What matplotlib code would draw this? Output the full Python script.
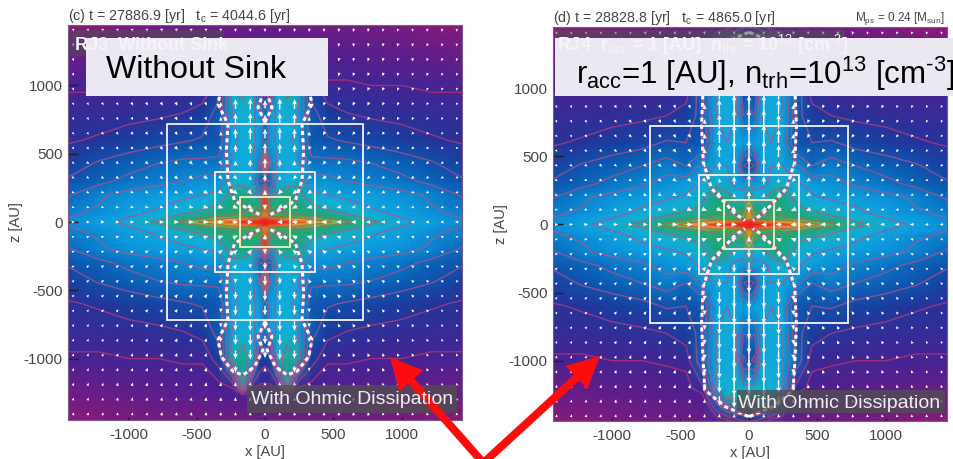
import matplotlib
matplotlib.use('Agg')
import matplotlib.pyplot as plt
import numpy as np
from matplotlib.colors import LinearSegmentedColormap
from matplotlib.patches import FancyArrow, Rectangle

plt.rcParams['font.family'] = ['Liberation Sans', 'DejaVu Sans']
plt.rcParams['mathtext.fontset'] = 'custom'
plt.rcParams['mathtext.rm'] = 'Liberation Sans'
plt.rcParams['mathtext.default'] = 'rm'
plt.rcParams['axes.unicode_minus'] = False

FIG_W = 954
FIG_H = 459

TICKS = [-1000, -500, 0, 500, 1000]

CMAP_POS = [0.0, 0.12, 0.25, 0.38, 0.50, 0.58, 0.68, 0.78, 0.86, 0.93, 1.0]
CMAP_COL = ['#8a1a78', '#4e1f92', '#1b3a9c', '#0a62b8', '#0d9ade', '#12b0d8',
            '#1ea67a', '#3db050', '#e8d030', '#f08020', '#e82020']
LEVELS = [0.15, 0.22, 0.32, 0.40, 0.46, 0.54, 0.62, 0.72, 0.82]
LEVEL_COL = ['#b8306e', '#b03a80', '#a8508c', '#a8508c', '#a05a90', '#a05a90',
             '#a0608c', '#a06870', '#b06050']

# density colour value, quadrant x >= 0, z >= 0 (mirrored for the rest)
X_NODES = [0, 40, 90, 160, 240, 340, 460, 600, 780, 1000, 1220, 1450]
Z_NODES = [0, 20, 45, 80, 130, 200, 300, 430, 600, 800, 1000, 1200, 1270, 1450]
DENS_C = [
    [1.00, 1.00, 1.00, 1.00, 0.98, 0.92, 0.84, 0.74, 0.64, 0.56, 0.51, 0.47],
    [1.00, 0.97, 0.95, 0.93, 0.88, 0.82, 0.75, 0.69, 0.61, 0.55, 0.50, 0.46],
    [0.93, 0.80, 0.76, 0.74, 0.73, 0.71, 0.68, 0.64, 0.58, 0.53, 0.49, 0.45],
    [0.95, 0.74, 0.72, 0.71, 0.70, 0.68, 0.63, 0.59, 0.55, 0.51, 0.47, 0.44],
    [0.98, 0.70, 0.70, 0.70, 0.68, 0.62, 0.58, 0.56, 0.53, 0.50, 0.46, 0.42],
    [0.98, 0.50, 0.64, 0.68, 0.66, 0.56, 0.54, 0.52, 0.50, 0.48, 0.45, 0.39],
    [0.35, 0.40, 0.55, 0.58, 0.60, 0.48, 0.48, 0.46, 0.44, 0.42, 0.38, 0.33],
    [0.95, 0.45, 0.55, 0.56, 0.55, 0.42, 0.42, 0.42, 0.40, 0.37, 0.33, 0.27],
    [0.40, 0.50, 0.56, 0.56, 0.52, 0.35, 0.33, 0.31, 0.29, 0.26, 0.23, 0.21],
    [0.42, 0.50, 0.56, 0.58, 0.54, 0.36, 0.25, 0.22, 0.20, 0.19, 0.18, 0.18],
    [0.25, 0.30, 0.58, 0.66, 0.62, 0.26, 0.16, 0.16, 0.15, 0.15, 0.14, 0.14],
    [0.14, 0.14, 0.20, 0.62, 0.16, 0.13, 0.11, 0.11, 0.10, 0.09, 0.08, 0.07],
    [0.12, 0.12, 0.12, 0.12, 0.12, 0.11, 0.10, 0.10, 0.09, 0.08, 0.07, 0.06],
    [0.06, 0.06, 0.05, 0.05, 0.05, 0.05, 0.05, 0.05, 0.04, 0.03, 0.01, 0.00],
]
DENS_D = [
    [1.00, 1.00, 1.00, 1.00, 1.00, 0.95, 0.86, 0.76, 0.66, 0.58, 0.52, 0.48],
    [1.00, 0.97, 0.95, 0.93, 0.90, 0.84, 0.77, 0.70, 0.62, 0.56, 0.51, 0.47],
    [0.93, 0.80, 0.76, 0.74, 0.74, 0.72, 0.69, 0.65, 0.59, 0.54, 0.50, 0.46],
    [0.90, 0.74, 0.72, 0.71, 0.71, 0.69, 0.64, 0.60, 0.56, 0.52, 0.48, 0.44],
    [0.85, 0.68, 0.66, 0.68, 0.68, 0.63, 0.59, 0.57, 0.54, 0.50, 0.46, 0.42],
    [0.70, 0.58, 0.58, 0.66, 0.68, 0.60, 0.55, 0.53, 0.50, 0.48, 0.45, 0.39],
    [0.55, 0.50, 0.52, 0.55, 0.60, 0.56, 0.50, 0.48, 0.45, 0.42, 0.38, 0.33],
    [0.28, 0.32, 0.50, 0.54, 0.54, 0.48, 0.40, 0.44, 0.40, 0.37, 0.33, 0.27],
    [0.50, 0.52, 0.54, 0.54, 0.52, 0.34, 0.32, 0.33, 0.29, 0.26, 0.23, 0.21],
    [0.42, 0.40, 0.54, 0.56, 0.54, 0.36, 0.26, 0.22, 0.20, 0.19, 0.18, 0.18],
    [0.34, 0.30, 0.54, 0.56, 0.54, 0.40, 0.17, 0.16, 0.15, 0.15, 0.14, 0.14],
    [0.56, 0.58, 0.60, 0.58, 0.54, 0.20, 0.12, 0.11, 0.10, 0.09, 0.08, 0.07],
    [0.68, 0.68, 0.66, 0.62, 0.40, 0.12, 0.10, 0.10, 0.09, 0.08, 0.07, 0.06],
    [0.20, 0.20, 0.16, 0.10, 0.08, 0.06, 0.05, 0.05, 0.04, 0.03, 0.01, 0.00],
]

# outflow boundary, x >= 0 and z >= 0
EDGE_X_C = [0, 51, 15, 76, 161, 234, 320, 344, 271, 283, 271, 222, 120, 30]
EDGE_Z_C = [730, 839, 937, 1059, 1120, 1095, 986, 864, 717, 522, 303, 156, 95, 50]
EDGE_X_D = [5, 175, 322, 334, 346, 334, 273, 102, 30]
EDGE_Z_D = [1410, 1337, 1215, 1020, 727, 459, 264, 80, 30]

# velocity arrows, rows z index 0..13, columns x index 0..13, towards the centre
ARROW_STEP = 108
U_IN = [
    [0, 40, 45, 45, 40, 38, 35, 32, 30, 30, 28, 28, 25, 25],
    [0, 35, 38, 38, 35, 30, 28, 26, 26, 24, 24, 22, 22, 20],
    [0, 25, 30, 30, 30, 28, 25, 24, 24, 22, 20, 20, 20, 20],
    [0, 12, 20, 24, 25, 25, 24, 22, 20, 20, 20, 20, 18, 18],
    [0, 10, 15, 18, 20, 22, 22, 20, 20, 18, 18, 18, 18, 16],
    [0, 8, 12, 15, 18, 20, 20, 18, 18, 16, 16, 16, 14, 14],
    [0, 5, 10, 12, 15, 15, 16, 16, 16, 14, 14, 14, 12, 12],
    [0, 5, 8, 10, 12, 12, 14, 14, 14, 12, 12, 12, 10, 10],
    [0, 4, 6, 8, 10, 10, 12, 12, 12, 12, 10, 10, 10, 8],
    [0, 3, 5, 6, 8, 8, 10, 10, 10, 10, 10, 8, 8, 8],
    [0, 3, 4, 5, 6, 8, 8, 8, 8, 8, 8, 8, 8, 8],
    [0, 2, 3, 4, 5, 6, 6, 6, 6, 6, 6, 6, 6, 6],
    [0, 2, 3, 3, 4, 4, 5, 5, 5, 5, 5, 5, 5, 5],
    [0, 1, 2, 2, 3, 3, 4, 4, 4, 4, 4, 4, 4, 4],
]
V_IN = [
    [0, 0, 0, 0, 0, 0, 0, 0, 0, 0, 0, 0, 0, 0],
    [40, 22, 18, 14, 12, 10, 10, 8, 8, 6, 6, 6, 5, 5],
    [45, 30, 24, 20, 18, 16, 14, 13, 12, 12, 10, 10, 10, 8],
    [40, 32, 26, 24, 20, 20, 18, 16, 15, 14, 14, 12, 12, 12],
    [36, 32, 28, 26, 24, 22, 20, 18, 18, 16, 16, 15, 14, 14],
    [32, 30, 28, 26, 25, 24, 22, 20, 20, 18, 18, 16, 16, 15],
    [32, 30, 28, 26, 25, 24, 22, 22, 20, 20, 18, 18, 16, 16],
    [30, 30, 28, 26, 25, 25, 24, 22, 22, 20, 20, 18, 18, 18],
    [30, 30, 28, 26, 25, 25, 25, 24, 22, 22, 20, 20, 18, 18],
    [30, 30, 28, 26, 26, 25, 25, 25, 24, 22, 22, 20, 20, 20],
    [30, 30, 28, 28, 28, 26, 25, 25, 25, 24, 22, 22, 20, 20],
    [30, 30, 28, 28, 28, 26, 25, 25, 25, 25, 24, 22, 22, 22],
    [28, 28, 28, 28, 28, 25, 25, 25, 25, 25, 24, 22, 22, 22],
    [25, 25, 25, 25, 25, 25, 25, 25, 22, 22, 22, 22, 22, 22],
]
# outward speed in the jet, x index 0..3; 0 keeps the infall arrow
JET_C = [
    [0, 0, 0, 0],
    [0, 0, 0, 0],
    [40, 0, 0, 0],
    [50, 30, 0, 0],
    [70, 50, 35, 0],
    [75, 70, 55, 0],
    [70, 85, 70, 30],
    [60, 85, 80, 30],
    [60, 80, 70, 30],
    [50, 70, 60, 30],
    [0, 0, 45, 25],
    [0, 0, 0, 0],
    [0, 0, 0, 0],
    [0, 0, 0, 0],
]
JET_D = [
    [0, 0, 0, 0],
    [0, 0, 0, 0],
    [60, 30, 0, 0],
    [90, 60, 30, 0],
    [140, 110, 60, 20],
    [160, 150, 90, 35],
    [170, 165, 100, 35],
    [170, 170, 105, 35],
    [170, 170, 105, 35],
    [170, 170, 105, 35],
    [170, 170, 105, 35],
    [140, 140, 95, 30],
    [100, 100, 70, 0],
    [0, 0, 0, 0],
]

PANELS = [
    {'box': (68, 25, 462, 420), 'xlim': (-1443, 1443), 'ylim': (-1450, 1443),
     'dens': DENS_C, 'jet': JET_C, 'edge': (EDGE_X_C, EDGE_Z_C),
     'title': '(c) t = 27886.9 [yr]   t$_c$ = 4044.6 [yr]'},
    {'box': (553, 27, 947, 421), 'xlim': (-1430, 1445), 'ylim': (-1443, 1450),
     'dens': DENS_D, 'jet': JET_D, 'edge': (EDGE_X_D, EDGE_Z_D),
     'title': '(d) t = 28828.8 [yr]   t$_c$ = 4865.0 [yr]'},
]
SQUARES = [(720, '#f4f4f4'), (365, '#f4f4f4'), (183, '#f2efc0')]
GREY = '#454545'


def mirror_field(values: np.ndarray) -> np.ndarray:
    top = np.hstack([values[:, :0:-1], values])
    return np.vstack([top[:0:-1], top])


def draw_panel(fig: plt.Figure, panel: dict, cmap) -> plt.Axes:
    left, top, right, bottom = panel['box']
    ax = fig.add_axes([left / FIG_W, 1 - bottom / FIG_H,
                       (right - left) / FIG_W, (bottom - top) / FIG_H])
    xs = np.array(X_NODES, dtype=float)
    zs = np.array(Z_NODES, dtype=float)
    xs = np.concatenate([-xs[:0:-1], xs])
    zs = np.concatenate([-zs[:0:-1], zs])
    field = mirror_field(np.array(panel['dens']))
    ax.pcolormesh(xs, zs, field, cmap=cmap, vmin=0, vmax=1,
                  shading='gouraud', zorder=1)
    ax.contour(xs, zs, field, levels=LEVELS, colors=LEVEL_COL,
               linewidths=1.0, alpha=0.8, zorder=2)

    # outflow boundary
    edge_x = np.array(panel['edge'][0])
    edge_z = np.array(panel['edge'][1])
    for sx in (-1, 1):
        for sz in (-1, 1):
            ax.plot(sx * edge_x, sz * edge_z, color='#c04a90', lw=1.5, zorder=3)
            ax.plot(sx * edge_x, sz * edge_z, color='white', lw=2.2,
                    dashes=(1.3, 1.1), zorder=4)

    # velocity arrows
    u_q = -np.array(U_IN, dtype=float)
    v_q = -np.array(V_IN, dtype=float)
    jet = np.array(panel['jet'], dtype=float)
    mask = jet != 0
    v_q[:, :4][mask] = jet[mask]
    u_q[:, :4][mask] *= -0.15
    k = np.arange(-13, 14)
    grid_x, grid_z = np.meshgrid(k * ARROW_STEP, k * ARROW_STEP)
    u = mirror_field(u_q) * np.sign(k)[None, :]
    v = mirror_field(v_q) * np.sign(k + 0.1)[:, None]
    ax.quiver(grid_x, grid_z, u, v, color='white', angles='xy',
              scale_units='xy', scale=1, pivot='mid', units='dots',
              width=1.4, headwidth=3.4, headlength=3.8, headaxislength=3.3,
              minlength=0.1, zorder=5)

    for half, color in SQUARES:
        ax.add_patch(Rectangle((-half, -half), 2 * half, 2 * half, fill=False,
                               ec=color, lw=1.3, zorder=6))

    ax.set_xlim(*panel['xlim'])
    ax.set_ylim(*panel['ylim'])
    ax.set_xticks(TICKS)
    ax.set_yticks(TICKS)
    ax.tick_params(direction='in', length=7, width=1.0, color='#202020',
                   labelsize=11, labelcolor=GREY, pad=4)
    ax.tick_params(axis='x', length=2, pad=6)
    ax.set_xlabel('x [AU]', fontsize=10.5, color=GREY, labelpad=2)
    ax.set_ylabel('z [AU]', fontsize=10.5, color=GREY)
    ax.yaxis.set_label_coords(-0.114, 0.5)
    ax.set_title(panel['title'], loc='left', fontsize=10.3, color=GREY, pad=1)
    for spine in ax.spines.values():
        spine.set_color('#7a5a90')
        spine.set_linewidth(0.8)
    return ax


def draw_overlay(fig: plt.Figure) -> None:
    ov = fig.add_axes([0, 0, 1, 1], zorder=10)
    ov.set_xlim(0, FIG_W)
    ov.set_ylim(FIG_H, 0)
    ov.axis('off')
    ov.patch.set_alpha(0)

    ov.text(945, 19, 'M$_{ps}$ = 0.24 [M$_{sun}$]', fontsize=8.5, color=GREY,
            ha='right', va='center')

    # labels printed in the original plots
    for x0, x1, y0, y1 in [(70, 224, 30, 56), (555, 845, 30, 56)]:
        ov.add_patch(Rectangle((x0, y0), x1 - x0, y1 - y0, fc='#505050',
                               alpha=0.55, ec='none'))
    for x0, x1, y0, y1 in [(247, 457, 385, 413), (737, 945, 390, 413)]:
        ov.add_patch(Rectangle((x0, y0), x1 - x0, y1 - y0, fc='#505050',
                               alpha=0.75, ec='none'))
    ov.text(251, 400, 'With Ohmic Dissipation', fontsize=14, color='#f0eef4',
            va='center')
    ov.text(738, 403, 'With Ohmic Dissipation', fontsize=14, color='#f0eef4',
            va='center')

    # slide annotations, the original label still shows faintly through them
    ov.add_patch(Rectangle((86, 38), 242, 58, fc='#ece8f2', ec='none'))
    ov.add_patch(Rectangle((555, 38), 399, 58, fc='#ece8f2', ec='none'))
    ov.text(75, 45, 'RJ3  Without Sink', fontsize=13, weight='bold',
            color='#f6f4fa', va='center')
    ov.text(557, 45, 'RJ4  r$_{acc}$ = 1 [AU]  n$_{thr}$ = 10$^{13}$ [cm$^{\\text{-3}}$]',
            fontsize=13, weight='bold', color='#f6f4fa', va='center')
    ov.text(106, 70, 'Without Sink', fontsize=23, color='black', va='center')
    ov.text(576, 74, 'r$_{acc}$=1 [AU], n$_{trh}$=10$^{13}$ [cm$^{\\text{-3}}$]',
            fontsize=22.5, color='black', va='center')

    for x_end, y_end, x_tip, y_tip in [(486, 466, 390, 357), (480, 466, 600, 356)]:
        ov.add_patch(FancyArrow(x_end, y_end, x_tip - x_end, y_tip - y_end,
                                width=8, head_width=32, head_length=32,
                                length_includes_head=True, fc='#fb0d0d',
                                ec='none'))


def main() -> None:
    fig = plt.figure(figsize=(FIG_W / 100, FIG_H / 100), dpi=100)
    cmap = LinearSegmentedColormap.from_list('dens', list(zip(CMAP_POS, CMAP_COL)))
    for panel in PANELS:
        draw_panel(fig, panel, cmap)
    draw_overlay(fig)
    fig.savefig('out.png', dpi=100)


if __name__ == '__main__':
    main()
